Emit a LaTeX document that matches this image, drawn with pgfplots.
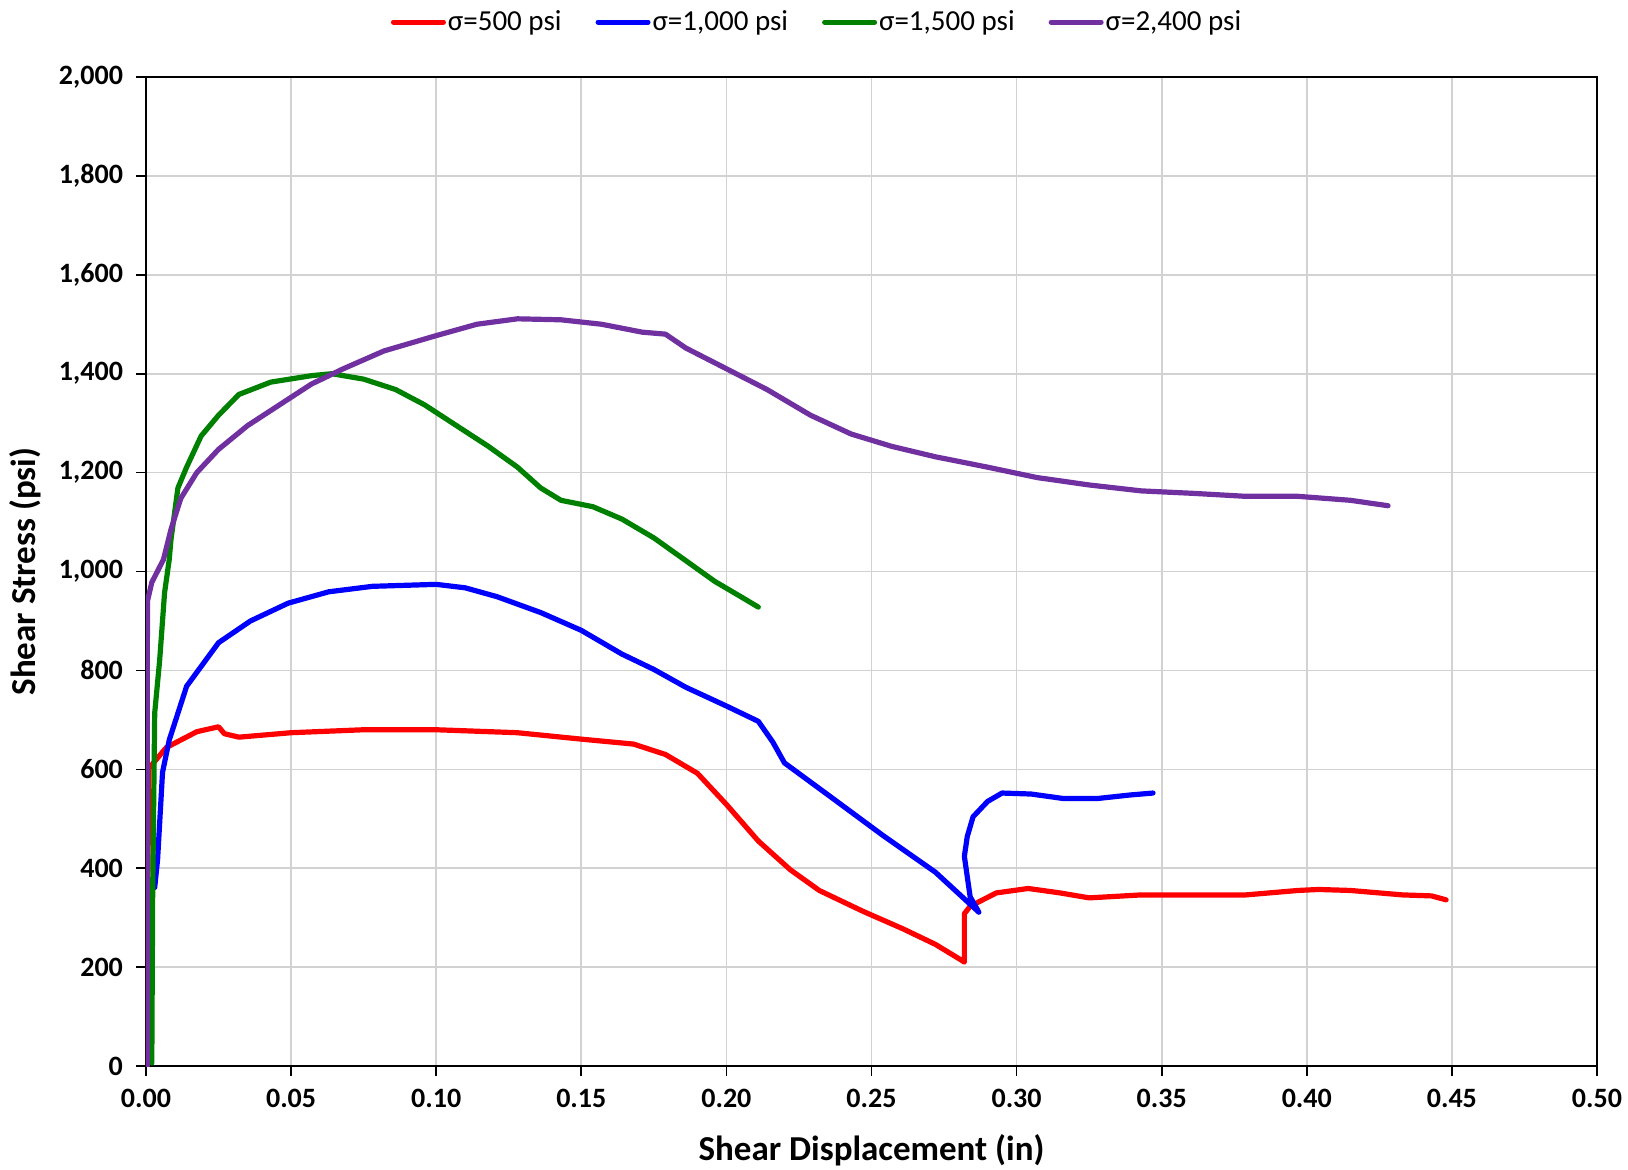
\documentclass[border=0pt]{standalone}
\usepackage{fontspec}
\setmainfont{Carlito}
\usepackage{pgfplots}
\pgfplotsset{compat=1.18}
\definecolor{cred}{RGB}{255,0,0}
\definecolor{cblue}{RGB}{0,0,255}
\definecolor{cgreen}{RGB}{0,128,0}
\definecolor{cpurple}{RGB}{112,48,160}
\begin{document}
\begin{tikzpicture}
\begin{axis}[
  at={(0,0)}, anchor=south west,
  scale only axis, width=725.5pt, height=494.5pt,
  xmin=0, xmax=0.5, ymin=0, ymax=2000,
  xtick={0,0.05,...,0.5}, ytick={0,200,...,2000},
  xtick pos=left, ytick pos=left, tick align=outside,
  major tick length=5pt,
  grid=major, grid style={gray!35, line width=0.8pt},
  axis line style={black, line width=0.8pt},
  tick style={black, line width=0.8pt},
  ticklabel style={font=\fontsize{14}{16}\selectfont\bfseries},
  /pgf/number format/assume math mode=true,
  xticklabel style={/pgf/number format/fixed, /pgf/number format/fixed zerofill, /pgf/number format/precision=2, yshift=-3pt},
  yticklabel style={/pgf/number format/1000 sep={,}, xshift=-3pt},
  scaled ticks=false,
  xlabel={Shear Displacement (in)}, ylabel={Shear Stress (psi)},
  label style={font=\fontsize{17.5}{20}\selectfont\bfseries},
  xlabel style={at={(axis description cs:0.5,-0.085)}, anchor=center},
  ylabel style={at={(axis description cs:-0.083,0.5)}, anchor=center},
  legend style={at={(axis description cs:0.4625,1.0556)}, anchor=center, draw=none, fill=none,
    legend columns=4, font=\fontsize{14.5}{16}\selectfont, column sep=0pt,
    /tikz/every even column/.append style={column sep=16pt},
    nodes={inner xsep=1pt}},
  legend image code/.code={\draw[#1, line width=2.5pt] (0pt,0pt) -- (25pt,0pt);},
  every axis plot/.append style={line width=2.6pt, line join=round, line cap=round},
]
\addplot[cred] coordinates {
(0.000,0) (0.0005,300) (0.001,602) (0.007,644) (0.0175,676) (0.025,686) (0.027,672)
(0.032,665) (0.05,674) (0.075,680) (0.10,680) (0.128,674) (0.15,661) (0.168,651)
(0.179,630) (0.19,592) (0.20,529) (0.211,455) (0.222,397) (0.232,355) (0.247,313)
(0.261,277) (0.272,246) (0.281,214) (0.282,210) (0.282,308) (0.284,323) (0.293,350)
(0.304,359) (0.315,350) (0.325,340) (0.343,346) (0.361,346) (0.379,346) (0.397,355)
(0.404,357) (0.415,355) (0.433,346) (0.443,344) (0.448,336)
};
\addlegendentry{σ=500 psi}
\addplot[cblue] coordinates {
(0.003,361) (0.004,418) (0.0057,594) (0.008,659) (0.014,768) (0.025,856) (0.036,900) (0.049,936)
(0.063,959) (0.078,970) (0.10,974) (0.11,967) (0.121,949) (0.136,917) (0.15,881)
(0.164,833) (0.175,802) (0.186,766) (0.20,728) (0.211,697) (0.216,655) (0.22,613)
(0.236,544) (0.254,466) (0.272,392) (0.287,311) (0.284,342) (0.282,424) (0.283,464)
(0.285,504) (0.29,535) (0.295,552) (0.305,550) (0.316,541) (0.328,541) (0.339,548)
(0.347,552)
};
\addlegendentry{σ=1,000 psi}
\addplot[cgreen] coordinates {
(0.002,6) (0.0023,350) (0.003,714) (0.0047,820) (0.0064,957) (0.008,1024) (0.0086,1064)
(0.011,1169) (0.014,1211) (0.019,1274) (0.025,1316) (0.032,1358) (0.043,1383)
(0.057,1396) (0.064,1400) (0.075,1389) (0.086,1368) (0.096,1337) (0.107,1295)
(0.118,1253) (0.128,1211) (0.136,1169) (0.143,1144) (0.154,1131) (0.164,1106)
(0.175,1068) (0.186,1022) (0.196,980) (0.205,949) (0.211,928)
};
\addlegendentry{σ=1,500 psi}
\addplot[cpurple] coordinates {
(0.0004,0) (0.0004,500) (0.0005,940) (0.002,978) (0.006,1024) (0.0086,1085) (0.012,1148)
(0.0175,1200) (0.025,1247) (0.035,1295) (0.046,1337) (0.057,1379) (0.068,1410)
(0.082,1446) (0.10,1477) (0.114,1500) (0.128,1511) (0.143,1509) (0.157,1500)
(0.171,1484) (0.179,1480) (0.186,1452) (0.20,1410) (0.214,1368) (0.229,1316) (0.243,1278)
(0.257,1253) (0.272,1232) (0.29,1211) (0.307,1190) (0.325,1175) (0.343,1163)
(0.361,1158) (0.379,1152) (0.397,1152) (0.415,1144) (0.428,1133)
};
\addlegendentry{σ=2,400 psi}
\end{axis}
\pgfresetboundingbox
\path[use as bounding box] (-73pt,-51.5pt) rectangle (741pt,533pt);
\end{tikzpicture}
\end{document}
